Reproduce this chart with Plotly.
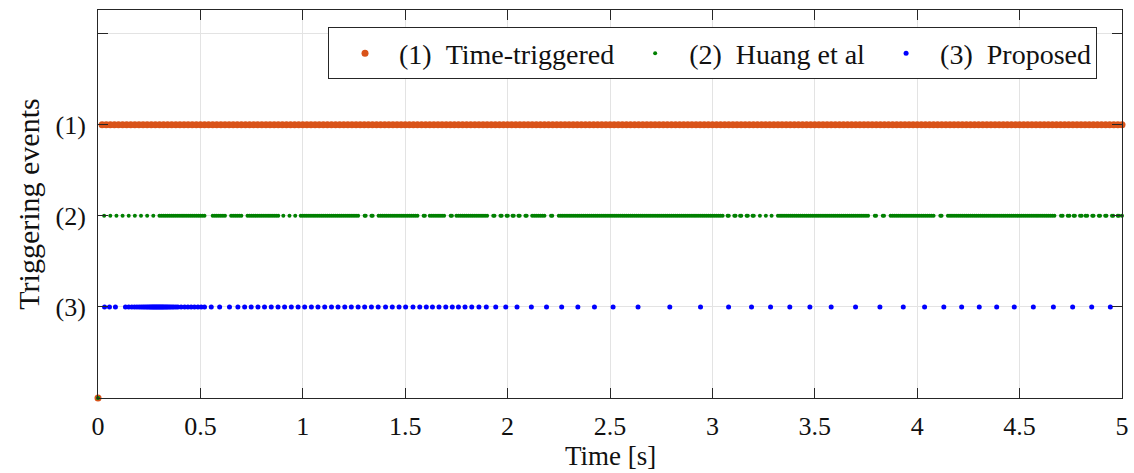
import plotly.graph_objects as go

# ---------------- data ----------------
Y_TICK_VALUES = [0, 1, 2, 3, 4]
Y_TICK_LABELS = ["", "(3)", "(2)", "(1)", ""]
X_TICK_VALUES = [0, 0.5, 1, 1.5, 2, 2.5, 3, 3.5, 4, 4.5, 5]
X_TICK_LABELS = ["0", "0.5", "1", "1.5", "2", "2.5", "3", "3.5", "4", "4.5", "5"]
X_TITLE = "Time [s]"
Y_TITLE = "Triggering events"

NB = "\u00a0"
SERIES_NAMES = [
    NB * 2 + "(1)" + NB * 2 + "Time-triggered",
    NB * 2 + "(2)" + NB * 2 + "Huang et al",
    NB * 2 + "(3)" + NB * 2 + "Proposed",
]
SERIES_LEVELS = [3, 2, 1]

# initial sample (t = 0, no event)
INITIAL_T = [0.0]
INITIAL_Y = [0]

TIME_TRIGGERED_T = [
    0.02, 0.04, 0.06, 0.08, 0.10, 0.12, 0.14, 0.16, 0.18, 0.20,
    0.22, 0.24, 0.26, 0.28, 0.30, 0.32, 0.34, 0.36, 0.38, 0.40,
    0.42, 0.44, 0.46, 0.48, 0.50, 0.52, 0.54, 0.56, 0.58, 0.60,
    0.62, 0.64, 0.66, 0.68, 0.70, 0.72, 0.74, 0.76, 0.78, 0.80,
    0.82, 0.84, 0.86, 0.88, 0.90, 0.92, 0.94, 0.96, 0.98, 1.00,
    1.02, 1.04, 1.06, 1.08, 1.10, 1.12, 1.14, 1.16, 1.18, 1.20,
    1.22, 1.24, 1.26, 1.28, 1.30, 1.32, 1.34, 1.36, 1.38, 1.40,
    1.42, 1.44, 1.46, 1.48, 1.50, 1.52, 1.54, 1.56, 1.58, 1.60,
    1.62, 1.64, 1.66, 1.68, 1.70, 1.72, 1.74, 1.76, 1.78, 1.80,
    1.82, 1.84, 1.86, 1.88, 1.90, 1.92, 1.94, 1.96, 1.98, 2.00,
    2.02, 2.04, 2.06, 2.08, 2.10, 2.12, 2.14, 2.16, 2.18, 2.20,
    2.22, 2.24, 2.26, 2.28, 2.30, 2.32, 2.34, 2.36, 2.38, 2.40,
    2.42, 2.44, 2.46, 2.48, 2.50, 2.52, 2.54, 2.56, 2.58, 2.60,
    2.62, 2.64, 2.66, 2.68, 2.70, 2.72, 2.74, 2.76, 2.78, 2.80,
    2.82, 2.84, 2.86, 2.88, 2.90, 2.92, 2.94, 2.96, 2.98, 3.00,
    3.02, 3.04, 3.06, 3.08, 3.10, 3.12, 3.14, 3.16, 3.18, 3.20,
    3.22, 3.24, 3.26, 3.28, 3.30, 3.32, 3.34, 3.36, 3.38, 3.40,
    3.42, 3.44, 3.46, 3.48, 3.50, 3.52, 3.54, 3.56, 3.58, 3.60,
    3.62, 3.64, 3.66, 3.68, 3.70, 3.72, 3.74, 3.76, 3.78, 3.80,
    3.82, 3.84, 3.86, 3.88, 3.90, 3.92, 3.94, 3.96, 3.98, 4.00,
    4.02, 4.04, 4.06, 4.08, 4.10, 4.12, 4.14, 4.16, 4.18, 4.20,
    4.22, 4.24, 4.26, 4.28, 4.30, 4.32, 4.34, 4.36, 4.38, 4.40,
    4.42, 4.44, 4.46, 4.48, 4.50, 4.52, 4.54, 4.56, 4.58, 4.60,
    4.62, 4.64, 4.66, 4.68, 4.70, 4.72, 4.74, 4.76, 4.78, 4.80,
    4.82, 4.84, 4.86, 4.88, 4.90, 4.92, 4.94, 4.96, 4.98, 5.00,
]

HUANG_T = [
    0.03, 0.06, 0.09, 0.12, 0.15, 0.18, 0.21, 0.24, 0.27,
    0.30, 0.31, 0.32, 0.33, 0.34, 0.35, 0.36, 0.37, 0.38, 0.39, 0.40,
    0.41, 0.42, 0.43, 0.44, 0.45, 0.46, 0.47, 0.48, 0.49, 0.50, 0.51, 0.52,
    0.56, 0.57, 0.58, 0.59, 0.60, 0.61, 0.62,
    0.65, 0.66, 0.67, 0.68, 0.69, 0.70,
    0.73, 0.74, 0.75, 0.76, 0.77, 0.78, 0.79, 0.80, 0.81, 0.82, 0.83, 0.84,
    0.85, 0.86, 0.87, 0.88,
    0.905, 0.935, 0.963,
    0.99, 1.00, 1.01, 1.02, 1.03, 1.04, 1.05, 1.06, 1.07, 1.08, 1.09, 1.10,
    1.11, 1.12, 1.13, 1.14, 1.15, 1.16, 1.17, 1.18, 1.19, 1.20, 1.21, 1.22,
    1.23, 1.24, 1.25, 1.26, 1.27,
    1.302, 1.307, 1.335, 1.341,
    1.37, 1.38, 1.39, 1.40, 1.41, 1.42, 1.43, 1.44, 1.45, 1.46, 1.47, 1.48,
    1.49, 1.50, 1.51, 1.52, 1.53, 1.54, 1.55, 1.56,
    1.590, 1.596,
    1.62, 1.63, 1.64, 1.65, 1.66, 1.67, 1.68, 1.69,
    1.722, 1.728,
    1.75, 1.76, 1.77, 1.78, 1.79, 1.80, 1.81, 1.82, 1.83, 1.84, 1.85, 1.86,
    1.87, 1.88, 1.89, 1.90,
    1.930, 1.936, 1.965, 1.971, 1.995, 2.001, 2.024, 2.030, 2.053, 2.059,
    2.087, 2.093,
    2.12, 2.13, 2.14, 2.15, 2.16, 2.17, 2.18,
    2.212, 2.218,
    2.25, 2.26, 2.27, 2.28, 2.29, 2.30, 2.31, 2.32, 2.33, 2.34, 2.35, 2.36,
    2.37, 2.38, 2.39, 2.40, 2.41, 2.42, 2.43, 2.44, 2.45, 2.46, 2.47, 2.48,
    2.49, 2.50, 2.51, 2.52, 2.53, 2.54, 2.55, 2.56, 2.57, 2.58, 2.59, 2.60,
    2.61, 2.62, 2.63, 2.64, 2.65, 2.66, 2.67, 2.68, 2.69, 2.70, 2.71, 2.72,
    2.73, 2.74, 2.75, 2.76, 2.77, 2.78, 2.79, 2.80, 2.81, 2.82, 2.83, 2.84,
    2.85, 2.86, 2.87, 2.88, 2.89, 2.90, 2.91, 2.92, 2.93, 2.94, 2.95, 2.96,
    2.97, 2.98, 2.99, 3.00, 3.01, 3.02, 3.03, 3.04, 3.05,
    3.074, 3.080, 3.107, 3.113, 3.135, 3.141, 3.167, 3.173, 3.196, 3.202,
    3.232, 3.261, 3.289,
    3.32, 3.33, 3.34, 3.35, 3.36, 3.37, 3.38, 3.39, 3.40, 3.41, 3.42, 3.43,
    3.44, 3.45, 3.46, 3.47, 3.48, 3.49, 3.50, 3.51, 3.52, 3.53, 3.54, 3.55,
    3.56, 3.57, 3.58, 3.59, 3.60, 3.61, 3.62, 3.63, 3.64, 3.65, 3.66, 3.67,
    3.68, 3.69, 3.70, 3.71, 3.72, 3.73, 3.74, 3.75, 3.76,
    3.793, 3.799, 3.832, 3.838,
    3.87, 3.88, 3.89, 3.90, 3.91, 3.92, 3.93, 3.94, 3.95, 3.96, 3.97, 3.98,
    3.99, 4.00, 4.01, 4.02, 4.03, 4.04, 4.05, 4.06, 4.07, 4.08,
    4.113, 4.119,
    4.15, 4.16, 4.17, 4.18, 4.19, 4.20, 4.21, 4.22, 4.23, 4.24, 4.25, 4.26,
    4.27, 4.28, 4.29, 4.30, 4.31, 4.32, 4.33, 4.34, 4.35, 4.36, 4.37, 4.38,
    4.39, 4.40, 4.41, 4.42, 4.43, 4.44, 4.45, 4.46, 4.47, 4.48, 4.49, 4.50,
    4.51, 4.52, 4.53, 4.54, 4.55, 4.56, 4.57, 4.58, 4.59, 4.60, 4.61, 4.62,
    4.63, 4.64, 4.65, 4.66, 4.67,
    4.702, 4.710, 4.735, 4.743, 4.764, 4.770, 4.795, 4.803, 4.822, 4.830,
    4.855, 4.861, 4.887, 4.893, 4.918, 4.924, 4.951, 4.957, 4.979, 4.985, 5.00,
]

PROPOSED_T = [
    0.032, 0.056, 0.085, 0.134, 0.150, 0.165, 0.178, 0.190, 0.201, 0.211,
    0.220, 0.228, 0.236, 0.243, 0.250, 0.256, 0.262, 0.267, 0.272, 0.277,
    0.282, 0.287, 0.292, 0.297, 0.302, 0.307, 0.312, 0.317, 0.322, 0.328,
    0.334, 0.340, 0.347, 0.354, 0.362, 0.370, 0.380, 0.390, 0.406, 0.423,
    0.439, 0.455, 0.471, 0.488, 0.504, 0.520, 0.553, 0.594, 0.642, 0.683,
    0.716, 0.748, 0.781, 0.813, 0.846, 0.879, 0.911, 0.944, 0.977, 1.009,
    1.042, 1.074, 1.107, 1.140, 1.172, 1.205, 1.237, 1.270, 1.302, 1.335,
    1.368, 1.404, 1.437, 1.470, 1.502, 1.538, 1.571, 1.603, 1.633, 1.665,
    1.698, 1.730, 1.760, 1.792, 1.825, 1.860, 1.896, 1.942, 1.991, 2.046,
    2.116, 2.190, 2.264, 2.343, 2.424, 2.515, 2.637, 2.792, 2.942, 3.079,
    3.191, 3.284, 3.378, 3.476, 3.580, 3.699, 3.818, 3.932, 4.036, 4.130,
    4.217, 4.303, 4.388, 4.474, 4.567, 4.665, 4.759, 4.852, 4.943,
]

# ---------------- styles ----------------
COLORS = ["#D95319", "#008000", "#0000FF"]
MARKER_SIZES = [7, 4, 5]
FONT = "Liberation Serif"
AXIS_COLOR = "#262626"
TEXT_COLOR = "#111111"
GRID_COLOR = "#e3e3e3"

series_t = [
    INITIAL_T + TIME_TRIGGERED_T,
    INITIAL_T + HUANG_T,
    PROPOSED_T,
]
series_y = [
    INITIAL_Y + [SERIES_LEVELS[0]] * len(TIME_TRIGGERED_T),
    INITIAL_Y + [SERIES_LEVELS[1]] * len(HUANG_T),
    [SERIES_LEVELS[2]] * len(PROPOSED_T),
]

fig = go.Figure()
for name, t, y, c, s in zip(SERIES_NAMES, series_t, series_y, COLORS, MARKER_SIZES):
    fig.add_trace(go.Scatter(
        x=t, y=y, mode="markers", name=name,
        marker=dict(color=c, size=s, line=dict(width=0)),
        cliponaxis=False,
    ))

fig.update_layout(
    width=1134, height=473,
    margin=dict(l=98, r=12, t=10, b=75, autoexpand=False),
    paper_bgcolor="white", plot_bgcolor="white",
    font=dict(family=FONT, size=26, color=TEXT_COLOR),
    showlegend=True,
    legend=dict(
        orientation="h",
        x=0.9756, xanchor="right",
        y=0.955, yanchor="top",
        indentation=16,
        bgcolor="white",
        bordercolor=AXIS_COLOR, borderwidth=1,
        font=dict(family=FONT, size=28, color=TEXT_COLOR),
        itemsizing="trace",
        tracegroupgap=0,
    ),
    annotations=[dict(
        text=X_TITLE, xref="paper", yref="paper", x=0.5, y=-0.149,
        xanchor="center", yanchor="middle", showarrow=False,
        font=dict(family=FONT, size=27, color=TEXT_COLOR),
    )],
)

fig.update_xaxes(
    range=[0, 5], automargin=False,
    tickvals=X_TICK_VALUES, ticktext=X_TICK_LABELS,
    ticks="inside", ticklen=10, tickwidth=1, tickcolor=AXIS_COLOR,
    showline=True, linecolor=AXIS_COLOR, linewidth=1, mirror="ticks",
    showgrid=True, gridcolor=GRID_COLOR, gridwidth=1,
    zeroline=False,
    tickfont=dict(family=FONT, size=26, color=TEXT_COLOR),
    ticklabelstandoff=5,
)
fig.update_yaxes(
    range=[0, 4.26], automargin=False,
    tickvals=Y_TICK_VALUES, ticktext=Y_TICK_LABELS,
    ticks="inside", ticklen=10, tickwidth=1, tickcolor=AXIS_COLOR,
    showline=True, linecolor=AXIS_COLOR, linewidth=1, mirror="ticks",
    showgrid=True, gridcolor=GRID_COLOR, gridwidth=1,
    zeroline=False,
    tickfont=dict(family=FONT, size=26, color=TEXT_COLOR),
    ticklabelstandoff=6,
    title=dict(text=Y_TITLE, font=dict(family=FONT, size=30, color=TEXT_COLOR), standoff=6),
)

fig.write_html("out.html")
